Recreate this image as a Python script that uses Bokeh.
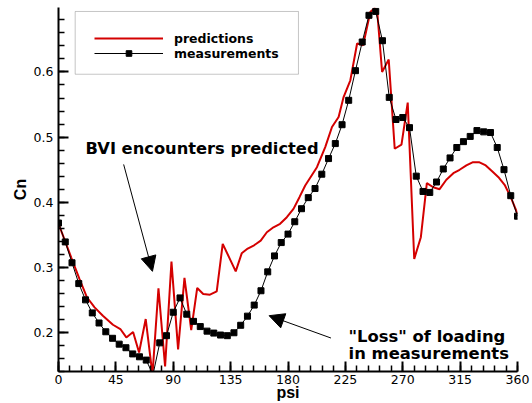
from bokeh.plotting import figure
from bokeh.models import (Range1d, SingleIntervalTicker, Legend, LegendItem,
                          BoxAnnotation, Label, Arrow, NormalHead)
from bokeh.embed import file_html
from bokeh.resources import INLINE

# Predicted normal force coefficient vs. azimuth (deg)
psi_pred = [0.0, 10.0, 16.5, 22.3, 28.3, 34.8, 42.7, 48.5, 53.2, 58.5, 63.2,
            68.4, 73.7, 78.4, 83.6, 88.6, 93.8, 98.8, 104.1, 108.8, 113.5,
            118.8, 124.1, 128.8, 134.0, 139.0, 143.7, 148.4, 153.4, 158.6,
            163.4, 168.6, 173.8, 179.1, 184.3, 189.0, 193.5, 202.7, 209.2,
            214.5, 219.7, 223.6, 228.9, 234.2, 238.9, 244.6, 247.8, 249.9,
            253.8, 259.0, 263.7, 269.0, 273.9, 279.0, 284.2, 288.9, 293.9,
            298.9, 304.2, 309.7, 314.6, 319.9, 325.1, 329.8, 335.1, 340.3,
            345.5, 350.2, 354.7, 360.0]
cn_pred = [0.367, 0.315, 0.282, 0.254, 0.2385, 0.2257, 0.2118, 0.2052,
           0.1923, 0.2006, 0.1692, 0.2206, 0.135, 0.2677, 0.1477, 0.3088,
           0.1740, 0.2837, 0.2037, 0.2683, 0.259, 0.258, 0.263, 0.336,
           0.3145, 0.2938, 0.3215, 0.3288, 0.3338, 0.341, 0.3538, 0.3615,
           0.3668, 0.377, 0.3898, 0.4077, 0.4257, 0.4538, 0.4846, 0.5154,
           0.5308, 0.5615, 0.5872, 0.6437, 0.641, 0.6923, 0.6975, 0.695,
           0.600, 0.619, 0.4821, 0.4883, 0.553, 0.313, 0.3462, 0.4292,
           0.423, 0.420, 0.4345, 0.4446, 0.4498, 0.4565, 0.4615, 0.4615,
           0.4565, 0.4472, 0.4375, 0.4257, 0.4077, 0.3822]

# Measured normal force coefficient
psi_meas = [0.0, 5.3, 10.6, 15.9, 21.2, 26.5, 31.8, 37.1, 42.4, 47.6, 52.9,
            58.2, 63.5, 68.8, 74.1, 79.4, 84.7, 90.0, 95.3, 100.6, 105.9,
            111.2, 116.5, 121.8, 127.1, 132.4, 137.6, 142.9, 148.2, 153.5,
            158.8, 164.1, 169.4, 174.7, 180.0, 185.3, 190.6, 195.9, 201.2,
            206.5, 211.8, 217.1, 222.4, 227.6, 232.9, 238.2, 243.5, 248.8,
            254.1, 259.4, 264.7, 270.0, 275.3, 280.6, 285.9, 291.2, 296.5,
            301.8, 307.1, 312.4, 317.6, 322.9, 328.2, 333.5, 338.8, 344.1,
            349.4, 354.7, 360.0]
cn_meas = [0.368, 0.339, 0.307, 0.275, 0.250, 0.230, 0.2145, 0.201, 0.191,
           0.182, 0.1765, 0.167, 0.1626, 0.1575, 0.135, 0.184, 0.195, 0.231,
           0.253, 0.228, 0.217, 0.209, 0.202, 0.199, 0.196, 0.195, 0.1995,
           0.211, 0.225, 0.242, 0.264, 0.293, 0.3175, 0.338, 0.351, 0.370,
           0.390, 0.407, 0.421, 0.443, 0.467, 0.490, 0.519, 0.5565, 0.602,
           0.646, 0.687, 0.693, 0.648, 0.561, 0.527, 0.530, 0.5145, 0.440,
           0.4165, 0.415, 0.431, 0.451, 0.468, 0.484, 0.493, 0.501, 0.510,
           0.508, 0.507, 0.484, 0.450, 0.410, 0.3785]

series_names = ["predictions", "measurements"]
x_label = "psi"
y_label = "Cn"
note_bvi = "BVI encounters predicted"
note_loss = ['"Loss" of loading', "in measurements"]

RED = "#d40000"
BOLD_FONT = "DejaVu Sans"

p = figure(width=532, height=403, output_backend="svg", toolbar_location=None,
           x_range=Range1d(0, 360), y_range=Range1d(0.14, 0.699),
           min_border_left=58, min_border_right=15,
           min_border_top=7, min_border_bottom=32)
p.outline_line_color = None
p.background_fill_color = "white"
p.border_fill_color = "white"
p.xgrid.visible = False
p.ygrid.visible = False

p.xaxis.ticker = SingleIntervalTicker(interval=45, num_minor_ticks=5)
p.yaxis.ticker = SingleIntervalTicker(interval=0.1, num_minor_ticks=5)
for ax in (p.xaxis[0], p.yaxis[0]):
    ax.axis_line_width = 2
    ax.axis_line_color = "black"
    ax.major_tick_in = 10
    ax.major_tick_out = 0
    ax.minor_tick_in = 6
    ax.minor_tick_out = 0
    ax.major_tick_line_width = 2
    ax.minor_tick_line_width = 1.5
    ax.major_tick_line_color = "black"
    ax.minor_tick_line_color = "black"
    ax.major_label_text_font = "DejaVu Sans"
    ax.major_label_text_font_size = "12.5px"
    ax.major_label_text_color = "black"
    ax.axis_label_text_font = "Liberation Sans"
    ax.axis_label_text_font_style = "bold"
    ax.axis_label_text_font_size = "16px"
    ax.axis_label_text_color = "black"
p.xaxis.major_label_standoff = 3
p.yaxis.major_label_standoff = 5
p.xaxis.axis_label = x_label
p.yaxis.axis_label = y_label
p.xaxis.axis_label_standoff = -3
p.yaxis.axis_label_standoff = 2

# Curves
r_pred = p.line(psi_pred, cn_pred, line_color=RED, line_width=2)
r_meas_line = p.line(psi_meas, cn_meas, line_color="black", line_width=1)
r_meas_pts = p.scatter(psi_meas, cn_meas, marker="square", size=6,
                       fill_color="black", line_color="black")

# Legend frame and entries
p.add_layout(BoxAnnotation(left=13.1, right=188.2, bottom=0.5965, top=0.6929,
                           fill_color="white", fill_alpha=1.0,
                           line_color="#404040", line_width=1, level="annotation"))
legend = Legend(items=[LegendItem(label=series_names[0], renderers=[r_pred]),
                       LegendItem(label=series_names[1],
                                  renderers=[r_meas_line, r_meas_pts])],
                location=(36, 310.2), padding=0, margin=0, spacing=0,
                glyph_width=69, glyph_height=14, label_height=14,
                label_standoff=11, border_line_alpha=0,
                background_fill_alpha=0,
                label_text_font=BOLD_FONT, label_text_font_style="bold",
                label_text_font_size="12.5px", label_text_color="black")
p.add_layout(legend)

# Annotations with arrows
p.add_layout(Label(x=21.2, y=0.4831, text=note_bvi, text_align="left",
                   text_baseline="alphabetic", text_font=BOLD_FONT,
                   text_font_style="bold", text_font_size="16.3px",
                   text_color="black"))
p.add_layout(Arrow(x_start=51.1, y_start=0.458, x_end=73.7, y_end=0.2938,
                   line_width=1, line_color="black",
                   end=NormalHead(size=15, fill_color="black",
                                  line_color="black")))
p.add_layout(Label(x=227.5, y=0.1938, text=note_loss[0], text_align="left",
                   text_baseline="alphabetic", text_font=BOLD_FONT,
                   text_font_style="bold", text_font_size="16.4px",
                   text_color="black"))
p.add_layout(Label(x=227.5, y=0.1672, text=note_loss[1], text_align="left",
                   text_baseline="alphabetic", text_font=BOLD_FONT,
                   text_font_style="bold", text_font_size="16.4px",
                   text_color="black"))
p.add_layout(Arrow(x_start=213.7, y_start=0.1914, x_end=165.2, y_end=0.2257,
                   line_width=1, line_color="black",
                   end=NormalHead(size=15, fill_color="black",
                                  line_color="black")))

open("out.html", "w").write(file_html(p, INLINE))
